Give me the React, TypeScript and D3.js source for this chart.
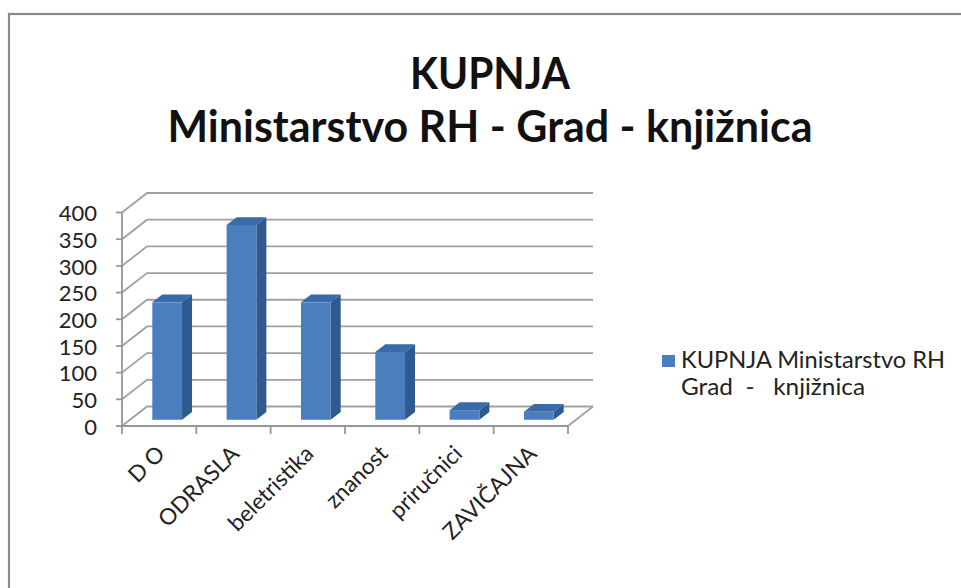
import * as d3 from "d3";
import React, { useRef, useEffect } from "react";

const categories = ["D O", "ODRASLA", "beletristika", "znanost", "priručnici", "ZAVIČAJNA"];
const values = [220, 365, 220, 127, 18, 15];
const yTicks = [0, 50, 100, 150, 200, 250, 300, 350, 400];
const titleLines = ["KUPNJA", "Ministarstvo RH - Grad - knjižnica"];
const legendLines = ["KUPNJA Ministarstvo RH", "Grad  -   knjižnica"];

const W = 961;
const H = 588;
const FONT = "Lato, 'Open Sans', sans-serif";

const App = () => {
  const ref = useRef<SVGSVGElement | null>(null);

  useEffect(() => {
    draw();
  }, []);

  const draw = () => {
    const svg = d3.select(ref.current);
    svg.selectAll("*").remove();

    // depth of the 3d box
    const DX = 25;
    const DY = -19.5;
    const f1 = 0.32;
    const f2 = 0.72;

    const xScale = d3.scaleBand().domain(categories).range([122, 568]).padding(0);
    const yScale = d3.scaleLinear().domain([0, 400]).range([426, 212.5]);

    svg.append("rect").attr("width", W).attr("height", H).attr("fill", "#fff");
    svg
      .append("rect")
      .attr("x", 9)
      .attr("y", 14)
      .attr("width", W + 20)
      .attr("height", H + 20)
      .attr("fill", "#fff")
      .attr("stroke", "#8a8a8a")
      .attr("stroke-width", 2.2);

    // title
    svg
      .selectAll(".title")
      .data(titleLines)
      .enter()
      .append("text")
      .attr("x", 490)
      .attr("y", (d, i) => 89 + i * 53)
      .attr("text-anchor", "middle")
      .attr("font-family", FONT)
      .attr("font-weight", "bold")
      .attr("font-size", 44)
      .attr("fill", "#111")
      .attr("textLength", (d, i) => (i === 0 ? 160 : 645))
      .attr("lengthAdjust", "spacingAndGlyphs")
      .text((d) => d);

    const chart = svg.append("g");
    const x0 = xScale.range()[0];
    const x1 = xScale.range()[1];

    // back wall and side wall gridlines
    chart
      .selectAll(".grid")
      .data(yTicks)
      .enter()
      .append("path")
      .attr("fill", "none")
      .attr("stroke", "#a0a0a0")
      .attr("stroke-width", 1.8)
      .attr("d", (d) => {
        const y = yScale(d);
        return `M${x0},${y}L${x0 + DX},${y + DY}L${x1 + DX},${y + DY}`;
      });

    // floor edge
    chart
      .append("path")
      .attr("fill", "none")
      .attr("stroke", "#a0a0a0")
      .attr("stroke-width", 1.8)
      .attr("d", `M${x1},${yScale(0)}L${x1 + DX},${yScale(0) + DY}`);

    // y axis
    chart
      .append("line")
      .attr("x1", x0)
      .attr("x2", x0)
      .attr("y1", yScale(400))
      .attr("y2", yScale(0))
      .attr("stroke", "#969696")
      .attr("stroke-width", 1.8);
    chart
      .selectAll(".ytick")
      .data(yTicks)
      .enter()
      .append("line")
      .attr("x1", x0 - 6)
      .attr("x2", x0)
      .attr("y1", (d) => yScale(d))
      .attr("y2", (d) => yScale(d))
      .attr("stroke", "#969696")
      .attr("stroke-width", 1.8);
    chart
      .selectAll(".ylab")
      .data(yTicks)
      .enter()
      .append("text")
      .attr("x", 97)
      .attr("y", (d) => yScale(d) + 1)
      .attr("dy", "0.35em")
      .attr("text-anchor", "end")
      .attr("font-family", FONT)
      .attr("font-size", 22)
      .attr("fill", "#222")
      .text((d) => d);

    // category axis
    chart
      .append("line")
      .attr("x1", x0)
      .attr("x2", x1)
      .attr("y1", yScale(0))
      .attr("y2", yScale(0))
      .attr("stroke", "#969696")
      .attr("stroke-width", 1.8);
    const tickXs = categories.map((c) => xScale(c) as number).concat([x1]);
    chart
      .selectAll(".xtick")
      .data(tickXs)
      .enter()
      .append("line")
      .attr("x1", (d) => d)
      .attr("x2", (d) => d)
      .attr("y1", yScale(0))
      .attr("y2", yScale(0) + 8)
      .attr("stroke", "#969696")
      .attr("stroke-width", 1.8);

    chart
      .selectAll(".xlab")
      .data(categories)
      .enter()
      .append("text")
      .attr(
        "transform",
        (d) => `translate(${(xScale(d) as number) + xScale.bandwidth() / 2 - 4},${yScale(0) + 18}) rotate(-45)`
      )
      .attr("dy", "0.7em")
      .attr("text-anchor", "end")
      .attr("font-family", FONT)
      .attr("font-size", 22.5)
      .attr("fill", "#222")
      .text((d) => d);

    // bars
    const bw = xScale.bandwidth() * 0.4;
    const bars = chart.selectAll(".bar").data(values).enter().append("g");

    const geom = (v: number, i: number) => {
      const cx = (xScale(categories[i]) as number) + xScale.bandwidth() / 2;
      return { xl: cx - bw / 2, xr: cx + bw / 2, yt: yScale(v), yb: yScale(0) };
    };

    bars
      .append("path")
      .attr("fill", "#2f5a8f")
      .attr("d", (v, i) => {
        const g = geom(v, i);
        return `M${g.xr + f1 * DX},${g.yt + f1 * DY}L${g.xr + f2 * DX},${g.yt + f2 * DY}L${g.xr + f2 * DX},${
          g.yb + f2 * DY
        }L${g.xr + f1 * DX},${g.yb + f1 * DY}Z`;
      });
    bars
      .append("path")
      .attr("fill", "#3a6aa7")
      .attr("d", (v, i) => {
        const g = geom(v, i);
        return `M${g.xl + f1 * DX},${g.yt + f1 * DY}L${g.xr + f1 * DX},${g.yt + f1 * DY}L${g.xr + f2 * DX},${
          g.yt + f2 * DY
        }L${g.xl + f2 * DX},${g.yt + f2 * DY}Z`;
      });
    bars
      .append("rect")
      .attr("fill", "#4a7ebe")
      .attr("x", (v, i) => geom(v, i).xl + f1 * DX)
      .attr("y", (v, i) => geom(v, i).yt + f1 * DY)
      .attr("width", bw)
      .attr("height", (v, i) => geom(v, i).yb - geom(v, i).yt);

    // legend
    const legend = svg.append("g");
    legend
      .append("rect")
      .attr("x", 662)
      .attr("y", 355)
      .attr("width", 13)
      .attr("height", 12)
      .attr("fill", "#4a7ebe");
    legend
      .selectAll("text")
      .data(legendLines)
      .enter()
      .append("text")
      .attr("x", 681)
      .attr("y", (d, i) => 368 + i * 27)
      .attr("font-family", FONT)
      .attr("font-size", 23)
      .attr("fill", "#222")
      .attr("textLength", (d, i) => (i === 0 ? 264 : 184))
      .attr("lengthAdjust", "spacingAndGlyphs")
      .style("white-space", "pre")
      .text((d) => d);
  };

  return (
    <svg ref={ref} width={W} height={H} style={{ position: "absolute", left: 0, top: 0, display: "block" }}></svg>
  );
};

export default App;
